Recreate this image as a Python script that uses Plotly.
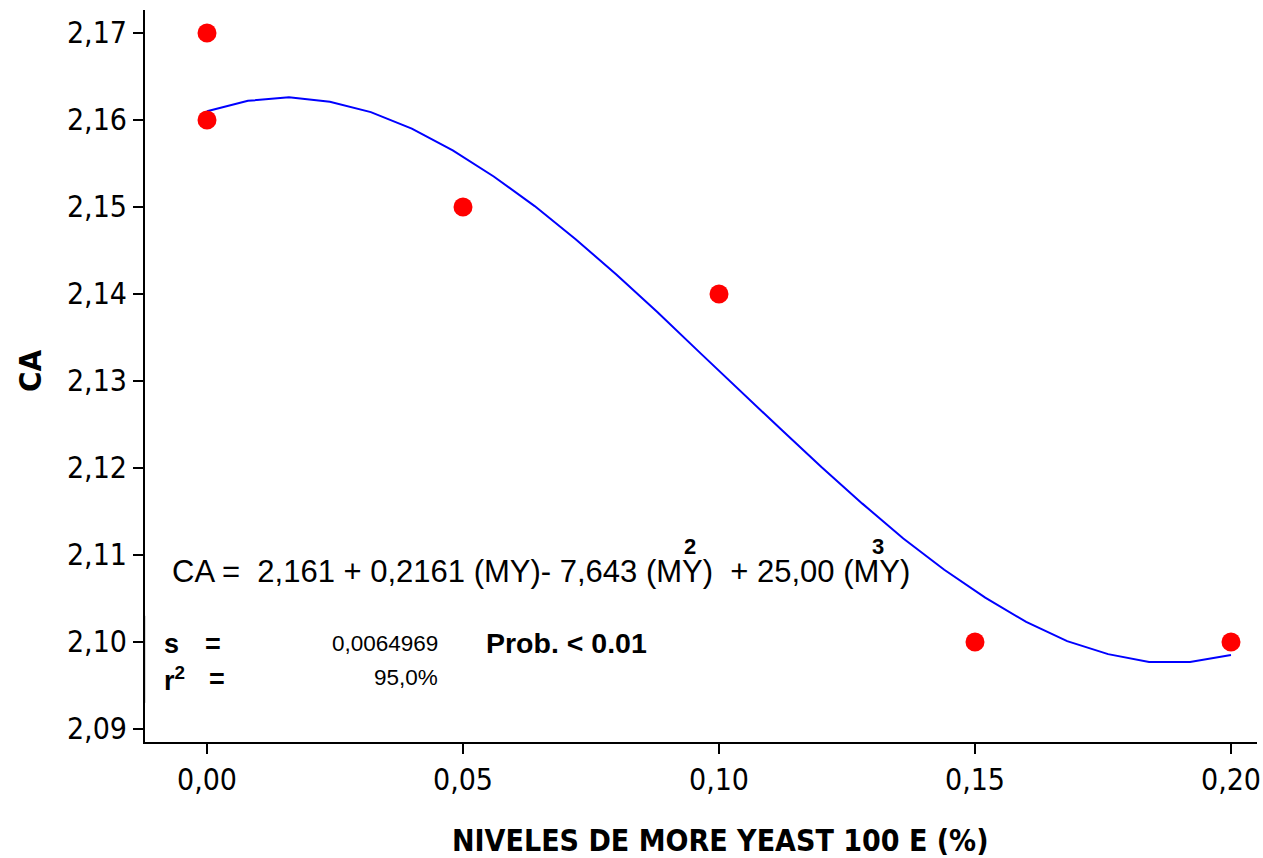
import plotly.graph_objects as go

# Observed feed conversion (CA) at each MORE YEAST 100 E level
niveles = [0.00, 0.00, 0.05, 0.10, 0.15, 0.20]
ca_obs = [2.17, 2.16, 2.15, 2.14, 2.10, 2.10]

# Fitted cubic regression line
curva_x = [0.000, 0.008, 0.016, 0.024, 0.032, 0.040, 0.048, 0.056, 0.064,
           0.072, 0.080, 0.088, 0.096, 0.104, 0.112, 0.120, 0.128, 0.136,
           0.144, 0.152, 0.160, 0.168, 0.176, 0.184, 0.192, 0.200]
curva_y = [2.1610, 2.1622, 2.1626, 2.1621, 2.1609, 2.1590, 2.1565, 2.1535,
           2.1501, 2.1463, 2.1422, 2.1379, 2.1334, 2.1289, 2.1245, 2.1201,
           2.1159, 2.1119, 2.1083, 2.1051, 2.1023, 2.1001, 2.0986, 2.0977,
           2.0977, 2.0985]

x_ticks = [0.00, 0.05, 0.10, 0.15, 0.20]
y_ticks = [2.09, 2.10, 2.11, 2.12, 2.13, 2.14, 2.15, 2.16, 2.17]

TICK_FONT = "DejaVu Sans Condensed, DejaVu Sans, sans-serif"
NARROW = "Liberation Sans, Arial, sans-serif"
BOLD = "Liberation Sans, Arial, sans-serif"

fig = go.Figure()
fig.add_trace(go.Scatter(x=curva_x, y=curva_y, mode="lines",
                         line=dict(color="#0000ff", width=2),
                         hoverinfo="skip", showlegend=False))
fig.add_trace(go.Scatter(x=niveles, y=ca_obs, mode="markers",
                         marker=dict(color="#ff0000", size=19),
                         showlegend=False))

annotations = [
    # regression equation
    dict(x=-0.00723, y=2.10805, xref="x", yref="y", xanchor="left", yanchor="middle",
         text="CA =  2,161 + 0,2161 (MY)- 7,643 (MY)  + 25,00 (MY)",
         font=dict(family=NARROW, size=31, color="black"), showarrow=False),
    dict(x=0.0943, y=2.11095, xref="x", yref="y", xanchor="center", yanchor="middle",
         text="<b>2</b>", font=dict(family=BOLD, size=22, color="black"), showarrow=False),
    dict(x=0.1311, y=2.11095, xref="x", yref="y", xanchor="center", yanchor="middle",
         text="<b>3</b>", font=dict(family=BOLD, size=22, color="black"), showarrow=False),
    # fit statistics
    dict(x=-0.0087, y=2.09977, xref="x", yref="y", xanchor="left", yanchor="middle",
         text="<b>s</b>", font=dict(family=BOLD, size=27, color="black"), showarrow=False),
    dict(x=0.00117, y=2.09977, xref="x", yref="y", xanchor="center", yanchor="middle",
         text="<b>=</b>", font=dict(family=BOLD, size=27, color="black"), showarrow=False),
    dict(x=-0.0087, y=2.09575, xref="x", yref="y", xanchor="left", yanchor="middle",
         text="<b>r<sup>2</sup></b>", font=dict(family=BOLD, size=27, color="black"), showarrow=False),
    dict(x=0.00195, y=2.09575, xref="x", yref="y", xanchor="center", yanchor="middle",
         text="<b>=</b>", font=dict(family=BOLD, size=27, color="black"), showarrow=False),
    dict(x=0.0455, y=2.09988, xref="x", yref="y", xanchor="right", yanchor="middle",
         text="0,0064969", font=dict(family=NARROW, size=22.5, color="black"), showarrow=False),
    dict(x=0.0455, y=2.09586, xref="x", yref="y", xanchor="right", yanchor="middle",
         text="95,0%", font=dict(family=NARROW, size=22.5, color="black"), showarrow=False),
    dict(x=0.0541, y=2.09988, xref="x", yref="y", xanchor="left", yanchor="middle",
         text="<b>Prob. &lt; 0.01</b>", font=dict(family=BOLD, size=28.5, color="black"),
         showarrow=False),
    # axis titles
    dict(x=-0.1034, y=0.5068, xref="paper", yref="paper", xanchor="center", yanchor="middle",
         text="<b>CA</b>", textangle=-90,
         font=dict(family=TICK_FONT, size=31, color="black"), showarrow=False),
    dict(x=0.517, y=-0.1339, xref="paper", yref="paper", xanchor="center", yanchor="middle",
         text="<b>NIVELES DE MORE YEAST 100 E (%)</b>",
         font=dict(family=TICK_FONT, size=30, color="black"), showarrow=False),
]

shapes = [
    # statistics box over the lower part of the y axis
    dict(type="rect", xref="x", yref="y", x0=-0.0119, x1=0.088, y0=2.0930, y1=2.1030,
         fillcolor="white", line=dict(width=0), layer="above"),
    dict(type="line", xref="x", yref="y", x0=-0.0121, x1=-0.0121, y0=2.0930, y1=2.1030,
         line=dict(color="#b8b8b8", width=1), layer="above"),
]

fig.update_layout(
    width=1263, height=858,
    margin=dict(l=145, r=6, t=10, b=116),
    paper_bgcolor="white", plot_bgcolor="white",
    separators=", ",
    annotations=annotations, shapes=shapes,
    xaxis=dict(range=[-0.01211, 0.20508], tickvals=x_ticks, tickformat=".2f",
               automargin=False,
               showgrid=False, zeroline=False, showline=True, linecolor="black",
               linewidth=2, ticks="outside", ticklen=10, tickwidth=2, tickcolor="black",
               tickfont=dict(family=TICK_FONT, size=30, color="black")),
    yaxis=dict(range=[2.0885, 2.17264], tickvals=y_ticks, tickformat=".2f",
               automargin=False,
               showgrid=False, zeroline=False, showline=True, linecolor="black",
               linewidth=2, ticks="outside", ticklen=10, tickwidth=2, tickcolor="black",
               tickfont=dict(family=TICK_FONT, size=30, color="black")),
)

fig.write_html("out.html")
